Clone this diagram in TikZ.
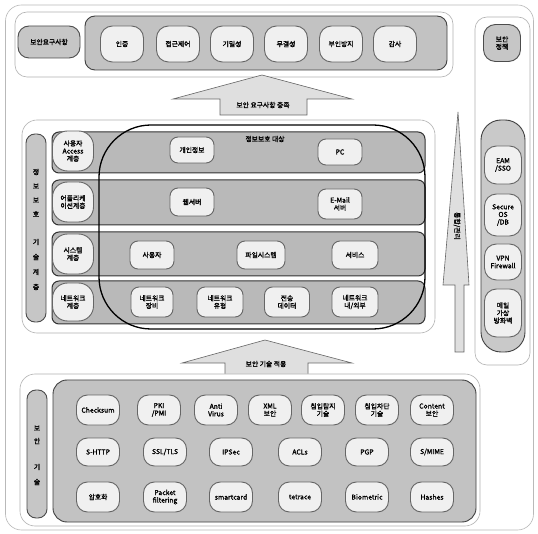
\documentclass[tikz,border=0pt]{standalone}
\usepackage{fontspec}
\newfontfamily\kr[AutoFakeBold=1.6]{Noto Sans CJK KR}
\begin{document}
\begin{tikzpicture}[x=1pt,y=-1pt,
  pill/.style={draw=black!60, line width=0.9pt, fill=gray!12, rounded corners=8pt, align=center, inner sep=0pt, font=\kr\bfseries\fontsize{6.8}{7.6}\selectfont},
  lbl/.style={pill, fill=gray!45, draw=black!70},
  group/.style={draw=black!75, line width=0.9pt, fill=gray!48, rounded corners=10pt, inner sep=0pt},
  panel/.style={draw=gray!60, line width=0.6pt, fill=white, rounded corners=12pt, inner sep=0pt},
  rowbox/.style={draw=black!80, line width=1pt, fill=gray!55, rounded corners=7pt, inner sep=0pt},
  bigarrow/.style={draw=black!60, line width=0.6pt, fill=gray!25},
  txt/.style={font=\kr\bfseries\fontsize{6.8}{7.6}\selectfont, inner sep=0pt, align=center}
]
\useasboundingbox (0,0) rectangle (538,534);
\fill[white] (0,0) rectangle (538,534);
% outer frame
\node[panel, draw=gray!55, minimum width=528pt, minimum height=525pt, rounded corners=16pt] (frame) at (269.5,267.5) {};

% ===== top: security requirements =====
\node[panel, minimum width=438pt, minimum height=65pt] (toppanel) at (234,44.5) {};
\node[lbl, minimum width=62pt, minimum height=32pt, rounded corners=11pt] (req) at (49,42) {보안요구사항};
\node[group, minimum width=362pt, minimum height=54pt] (reqgroup) at (266,43) {};
\foreach \x/\t/\n in {122/인증/r1, 178/접근제어/r2, 232/기밀성/r3, 286/무결성/r4, 341/부인방지/r5, 395/감사/r6}
  \node[pill, minimum width=43pt, minimum height=36pt, rounded corners=12pt] (\n) at (\x,44) {\t};

% ===== right: security policy =====
\node[panel, minimum width=55pt, minimum height=348pt] (rightpanel) at (502.5,191) {};
\node[lbl, minimum width=37pt, minimum height=37pt, rounded corners=12pt] (policy) at (502,43) {보안\\정책};
\node[group, fill=gray!42, minimum width=44pt, minimum height=232pt, rounded corners=20pt] (polgroup) at (503,236) {};
\node[pill, minimum width=37pt, minimum height=38pt, rounded corners=12pt] (p1) at (503,165) {EAM\\/SSO};
\node[pill, minimum width=37pt, minimum height=42pt, rounded corners=12pt] (p2) at (503,215) {Secure\\OS\\/DB};
\node[pill, minimum width=37pt, minimum height=36pt, rounded corners=12pt] (p3) at (503,262) {VPN\\Firewall};
\node[pill, minimum width=37pt, minimum height=48pt, rounded corners=12pt] (p4) at (503,313) {메일\\가상\\방화벽};

% ===== arrow: requirements satisfied =====
\draw[bigarrow] (220,115) -- (220,99) -- (173,99) -- (262,75) -- (352,99) -- (307,99) -- (307,115) -- cycle;
\node[txt] (reqarrow) at (263,105) {보안 요구사항 충족};

% ===== middle: protection layers =====
\node[panel, minimum width=413pt, minimum height=213pt, rounded corners=15pt] (midpanel) at (228.5,226.5) {};
\node[lbl, minimum width=20pt, minimum height=188pt, rounded corners=9pt] (layers) at (36,228) {};
\foreach \y/\c in {172/정, 186/보, 200/보, 214/호, 242/기, 257/술, 272/계, 287/층}
  \node[txt] at (36,\y) {\c};

\node[rowbox, minimum width=373pt, minimum height=41pt] (row1) at (238.5,152.5) {};
\node[rowbox, minimum width=373pt, minimum height=45pt] (row2) at (238.5,202.5) {};
\node[rowbox, minimum width=373pt, minimum height=44pt] (row3) at (238.5,254) {};
\node[rowbox, minimum width=373pt, minimum height=43pt] (row4) at (238.5,302.5) {};

\node[pill, minimum width=41pt, minimum height=40pt, rounded corners=15pt] (l1) at (73,151) {사용자\\Access\\계층};
\node[pill, minimum width=41pt, minimum height=40pt, rounded corners=15pt] (l2) at (73,202) {어플리케\\이션계층};
\node[pill, minimum width=41pt, minimum height=40pt, rounded corners=15pt] (l3) at (73,254) {시스템\\계층};
\node[pill, minimum width=41pt, minimum height=38pt, rounded corners=15pt] (l4) at (73,302) {네트워크\\계층};

\node[pill, minimum width=44pt, minimum height=26pt] (m11) at (192,150) {개인정보};
\node[pill, minimum width=44pt, minimum height=26pt] (m12) at (340,152) {PC};
\node[pill, minimum width=44pt, minimum height=28pt] (m21) at (192,202) {웹서버};
\node[pill, minimum width=44pt, minimum height=30pt] (m22) at (340,204) {E-Mail\\서버};
\node[pill, minimum width=44pt, minimum height=28pt] (m31) at (152,255) {사용자};
\node[pill, minimum width=48pt, minimum height=28pt] (m32) at (261,255) {파일시스템};
\node[pill, minimum width=46pt, minimum height=28pt] (m33) at (355,255) {서비스};
\node[pill, minimum width=42pt, minimum height=30pt] (m41) at (152,302) {네트워크\\장비};
\node[pill, minimum width=46pt, minimum height=30pt] (m42) at (220,302) {네트워크\\유형};
\node[pill, minimum width=45pt, minimum height=30pt] (m43) at (287,302) {전송\\데이터};
\node[pill, minimum width=46pt, minimum height=30pt] (m44) at (355,302) {네트워크\\내/외부};

\draw[black, line width=1.3pt, rounded corners=52pt] (99,125) rectangle (425,329);
\node[txt] (target) at (265,139) {정보보호 대상};

% ===== vertical arrow: integrated management =====
\draw[bigarrow] (458,112) -- (469,285) -- (464,285) -- (464,352) -- (455,352) -- (455,285) -- (443,285) -- cycle;
\node[txt, rotate=-90] (mgmt) at (457,226) {통합/관리};

% ===== arrow: apply technology =====
\draw[bigarrow] (225,376) -- (225,363) -- (182,363) -- (265,340) -- (352,363) -- (308,363) -- (308,376) -- cycle;
\node[txt] (techarrow) at (266,364) {보안 기술 적용};

% ===== bottom: security technology =====
\node[panel, minimum width=460pt, minimum height=152pt, rounded corners=15pt] (botpanel) at (250,450) {};
\node[group, minimum width=423pt, minimum height=142pt, rounded corners=14pt] (techgroup) at (264.5,451) {};
\node[lbl, minimum width=20pt, minimum height=128pt, rounded corners=9pt] (tech) at (37,454) {};
\foreach \y/\c in {428/보, 441/안, 467/기, 482/술}
  \node[txt] at (37,\y) {\c};

\foreach \x/\t/\n in {98/{Checksum}/b11, 159/{PKI\\/PMI}/b12, 216/{Anti\\Virus}/b13, 270/{XML\\보안}/b14, 323/{침입탐지\\기술}/b15, 377/{침입차단\\기술}/b16, 432/{Content\\보안}/b17}
  \node[pill, minimum width=43pt, minimum height=30pt, rounded corners=11pt] (\n) at (\x,410) {\t};
\foreach \x/\t/\n in {98/{S-HTTP}/b21, 165/{SSL/TLS}/b22, 231/{IPSec}/b23, 300/{ACLs}/b24, 367/{PGP}/b25, 432/{S/MIME}/b26}
  \node[pill, minimum width=43pt, minimum height=28pt, rounded corners=11pt] (\n) at (\x,452) {\t};
\foreach \x/\t/\n in {98/{암호화}/b31, 165/{Packet\\filtering}/b32, 231/{smartcard}/b33, 300/{tetrace}/b34, 367/{Biometric}/b35, 432/{Hashes}/b36}
  \node[pill, minimum width=43pt, minimum height=30pt, rounded corners=11pt] (\n) at (\x,497) {\t};
\end{tikzpicture}
\end{document}
